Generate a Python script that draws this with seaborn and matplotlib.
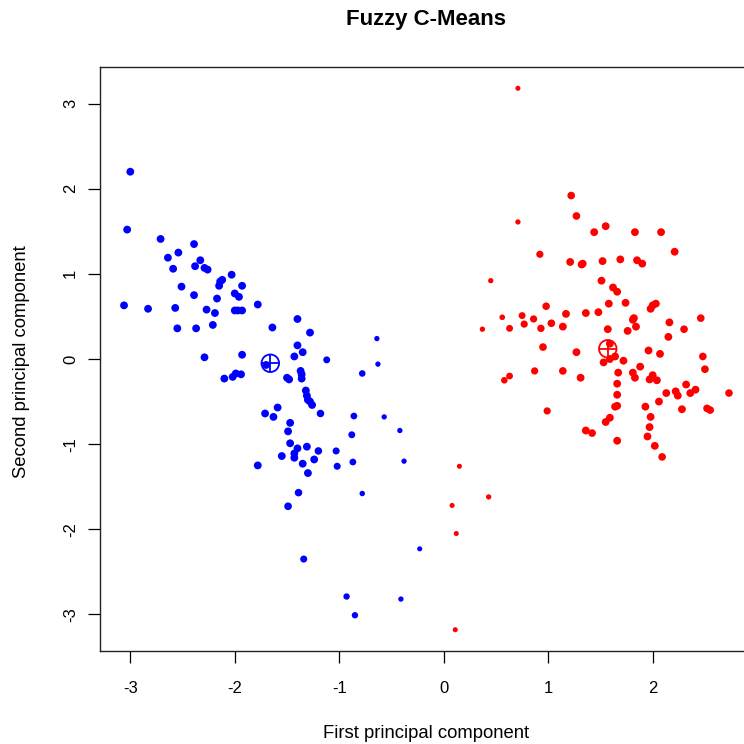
import numpy as np
import pandas as pd
import matplotlib
matplotlib.use("Agg")
import matplotlib.pyplot as plt
import seaborn as sns

# ---------------- data ----------------
title = "Fuzzy C-Means"
x_label = "First principal component"
y_label = "Second principal component"
x_ticks = [-3, -2, -1, 0, 1, 2]
y_ticks = [-3, -2, -1, 0, 1, 2, 3]
cluster_colors = {"1": "#0000FF", "2": "#FF0000"}

blue_x = [-3.00, -3.03, -2.71, -2.39, -2.54, -2.64, -2.33, -2.38, -2.59, -2.29,
          -2.26, -2.12, -2.14, -2.15, -2.03, -1.93, -2.51, -2.39, -2.17, -2.00,
          -1.96, -1.78, -3.06, -2.83, -2.57, -2.27, -2.19, -2.00, -1.97, -1.93,
          -2.55, -2.37, -2.21, -1.64, -1.40, -1.40, -2.29, -1.93, -1.43,
          -1.28, -1.35, -1.12, -0.64, -0.63, -0.78, -1.70, -2.10, -2.02, -1.99,
          -1.94, -1.50, -1.48, -1.37, -1.36, -1.36, -1.32, -1.31, -1.30, -1.28,
          -1.26, -1.18, -1.59, -1.71, -1.63, -0.86, -0.57, -1.47, -1.49, -0.88,
          -0.42, -1.47, -1.40, -1.31, -1.20, -1.03, -1.55, -1.43, -1.43, -1.24,
          -1.35, -1.02, -0.87, -0.38, -1.78, -1.30, -1.39, -0.78, -1.49, -0.23,
          -1.34, -0.93, -0.41, -0.85]
blue_y = [2.20, 1.52, 1.41, 1.35, 1.25, 1.19, 1.16, 1.09, 1.06, 1.07,
          1.05, 0.93, 0.91, 0.86, 0.99, 0.86, 0.85, 0.75, 0.71, 0.77,
          0.73, 0.64, 0.63, 0.59, 0.60, 0.58, 0.54, 0.57, 0.57, 0.57,
          0.36, 0.36, 0.40, 0.37, 0.47, 0.16, 0.02, 0.05, 0.03,
          0.31, 0.08, -0.01, 0.24, -0.06, -0.17, -0.07, -0.23, -0.21, -0.17,
          -0.18, -0.22, -0.24, -0.14, -0.18, -0.23, -0.37, -0.43, -0.48, -0.50,
          -0.54, -0.64, -0.57, -0.64, -0.68, -0.67, -0.68, -0.75, -0.85, -0.89,
          -0.84, -0.99, -1.05, -1.03, -1.08, -1.08, -1.14, -1.11, -1.16, -1.18,
          -1.23, -1.26, -1.21, -1.20, -1.25, -1.34, -1.57, -1.58, -1.73, -2.23,
          -2.35, -2.79, -2.82, -3.01]
blue_m = [0.95, 0.95, 0.95, 0.95, 0.95, 0.95, 0.95, 0.95, 0.95, 0.95,
          0.95, 0.95, 0.95, 0.95, 0.95, 0.95, 0.95, 0.95, 0.95, 0.95,
          0.95, 0.95, 0.95, 0.95, 0.95, 0.95, 0.95, 0.95, 0.95, 0.95,
          0.95, 0.95, 0.95, 0.95, 0.95, 0.95, 0.95, 0.95, 0.95,
          0.95, 0.95, 0.80, 0.58, 0.58, 0.75, 0.95, 0.95, 0.95, 0.95,
          0.95, 0.95, 0.95, 0.95, 0.95, 0.95, 0.95, 0.95, 0.95, 0.95,
          0.95, 0.90, 0.95, 0.95, 0.95, 0.78, 0.58, 0.95, 0.95, 0.80,
          0.58, 0.95, 0.95, 0.95, 0.90, 0.82, 0.95, 0.95, 0.95, 0.95,
          0.95, 0.82, 0.78, 0.58, 0.95, 0.95, 0.90, 0.60, 0.92, 0.55,
          0.82, 0.72, 0.58, 0.72]

red_x = [0.71, 1.22, 1.27, 0.71, 1.55, 1.44, 1.83, 2.08, 2.21, 0.92,
         1.21, 1.32, 1.33, 1.52, 1.69, 1.85, 1.90, 0.45, 1.51, 1.62,
         1.66, 1.74, 1.58, 0.98, 1.98, 2.03, 2.00, 0.56, 0.75, 0.86,
         1.17, 1.36, 1.48, 1.82, 1.81, 2.46, 0.37, 0.63, 0.77, 0.93,
         1.03, 1.14, 1.57, 1.76, 1.84, 2.16, 2.30, 2.15, 0.95, 1.59,
         1.27, 1.96, 2.07, 2.48, 1.59, 1.64, 1.53, 1.72, 2.50, 1.88,
         0.87, 1.14, 1.67, 1.81, 1.83, 1.97, 2.00, 2.04, 0.63, 0.58,
         1.31, 1.66, 2.32, 1.66, 2.13, 2.22, 2.24, 2.36, 2.41, 2.73,
         2.06, 1.93, 1.64, 1.66, 2.28, 2.52, 2.55, 0.99, 1.98, 1.59,
         1.55, 1.97, 1.36, 1.42, 1.95, 1.66, 2.02, 2.09, 0.15, 0.43,
         0.08, 0.12, 0.11]
red_y = [3.18, 1.92, 1.68, 1.61, 1.56, 1.49, 1.49, 1.49, 1.26, 1.23,
         1.14, 1.11, 1.12, 1.15, 1.17, 1.16, 1.12, 0.92, 0.92, 0.84,
         0.79, 0.66, 0.65, 0.62, 0.59, 0.65, 0.63, 0.49, 0.51, 0.47,
         0.53, 0.54, 0.55, 0.48, 0.46, 0.48, 0.35, 0.36, 0.41, 0.36,
         0.42, 0.38, 0.35, 0.33, 0.38, 0.43, 0.35, 0.26, 0.14, 0.18,
         0.08, 0.10, 0.06, 0.03, 0.00, 0.03, -0.04, -0.02, -0.12, -0.09,
         -0.14, -0.14, -0.16, -0.16, -0.22, -0.24, -0.19, -0.25, -0.20, -0.25,
         -0.22, -0.29, -0.30, -0.42, -0.40, -0.38, -0.43, -0.40, -0.36, -0.40,
         -0.50, -0.56, -0.56, -0.55, -0.59, -0.58, -0.60, -0.61, -0.68, -0.69,
         -0.74, -0.80, -0.84, -0.87, -0.91, -0.96, -1.02, -1.15, -1.26, -1.62,
         -1.72, -2.05, -3.18]
red_m = [0.55, 0.92, 0.92, 0.58, 0.95, 0.95, 0.95, 0.95, 0.95, 0.85,
         0.95, 0.95, 0.95, 0.95, 0.95, 0.95, 0.95, 0.58, 0.95, 0.95,
         0.95, 0.95, 0.95, 0.90, 0.95, 0.95, 0.95, 0.62, 0.80, 0.85,
         0.95, 0.95, 0.95, 0.95, 0.95, 0.92, 0.58, 0.80, 0.85, 0.88,
         0.92, 0.95, 0.95, 0.95, 0.95, 0.95, 0.92, 0.95, 0.92, 0.95,
         0.95, 0.95, 0.95, 0.92, 0.95, 0.95, 0.95, 0.95, 0.92, 0.95,
         0.85, 0.92, 0.95, 0.95, 0.95, 0.95, 0.95, 0.95, 0.78, 0.75,
         0.95, 0.95, 0.95, 0.95, 0.95, 0.95, 0.95, 0.95, 0.95, 0.90,
         0.95, 0.95, 0.95, 0.95, 0.95, 0.92, 0.92, 0.85, 0.95, 0.95,
         0.95, 0.95, 0.95, 0.92, 0.95, 0.95, 0.95, 0.92, 0.55, 0.58,
         0.55, 0.55, 0.55]

center_x = [-1.66, 1.57]
center_y = [-0.05, 0.12]
center_cluster = ["1", "2"]

# ---------------- build table ----------------
df = pd.DataFrame({
    "pc1": blue_x + red_x,
    "pc2": blue_y + red_y,
    "membership": blue_m + red_m,
    "cluster": ["1"] * len(blue_x) + ["2"] * len(red_x),
})
centers = pd.DataFrame({"pc1": center_x, "pc2": center_y, "cluster": center_cluster})

# ---------------- plot ----------------
sns.set_style("white")
plt.rcParams["font.family"] = ["Liberation Sans", "DejaVu Sans"]
plt.rcParams["text.color"] = "black"

W = 744
fig = plt.figure(figsize=(7.44, 7.44), dpi=100)
ax = fig.add_axes([100 / W, (W - 651) / W, 653 / W, 584 / W])

sns.scatterplot(data=df, x="pc1", y="pc2", hue="cluster", size="membership",
                palette=cluster_colors, sizes=(11, 34), size_norm=(0.5, 1.0),
                linewidth=0, legend=False, ax=ax)

for _, r in centers.iterrows():
    col = cluster_colors[r["cluster"]]
    ax.scatter([r["pc1"]], [r["pc2"]], s=160, marker="o", facecolors="none",
               edgecolors=col, linewidths=1.3, zorder=5)
    ax.scatter([r["pc1"]], [r["pc2"]], s=160, marker="+", color=col,
               linewidths=1.3, zorder=5)

ax.set_xlim(-3.29, 2.96)
ax.set_ylim(-3.43, 3.43)
ax.set_xticks(x_ticks)
ax.set_yticks(y_ticks)
ax.set_xticklabels([str(t) for t in x_ticks])
ax.set_yticklabels([str(t) for t in y_ticks], rotation=90, va="center")
ax.tick_params(direction="out", length=8.3, width=0.9, labelsize=12,
               colors="black", bottom=True, left=True)
ax.tick_params(axis="x", pad=13.5)
ax.tick_params(axis="y", pad=7.5)
for s in ax.spines.values():
    s.set_visible(True)
    s.set_color("#222222")
    s.set_linewidth(1.0)
ax.set_xlabel("")
ax.set_ylabel("")

cx = (100 + 753) / 2 / W
fig.text(cx, 1 - 20 / W, title, ha="center", va="center", fontsize=16,
         fontweight="bold", color="black")
fig.text(cx, 1 - 733 / W, x_label, ha="center", va="center", fontsize=13.3, color="black")
fig.text(22 / W, 1 - 362 / W, y_label, ha="center", va="center", fontsize=13.3,
         rotation=90, color="black")

fig.savefig("out.png", dpi=100)
